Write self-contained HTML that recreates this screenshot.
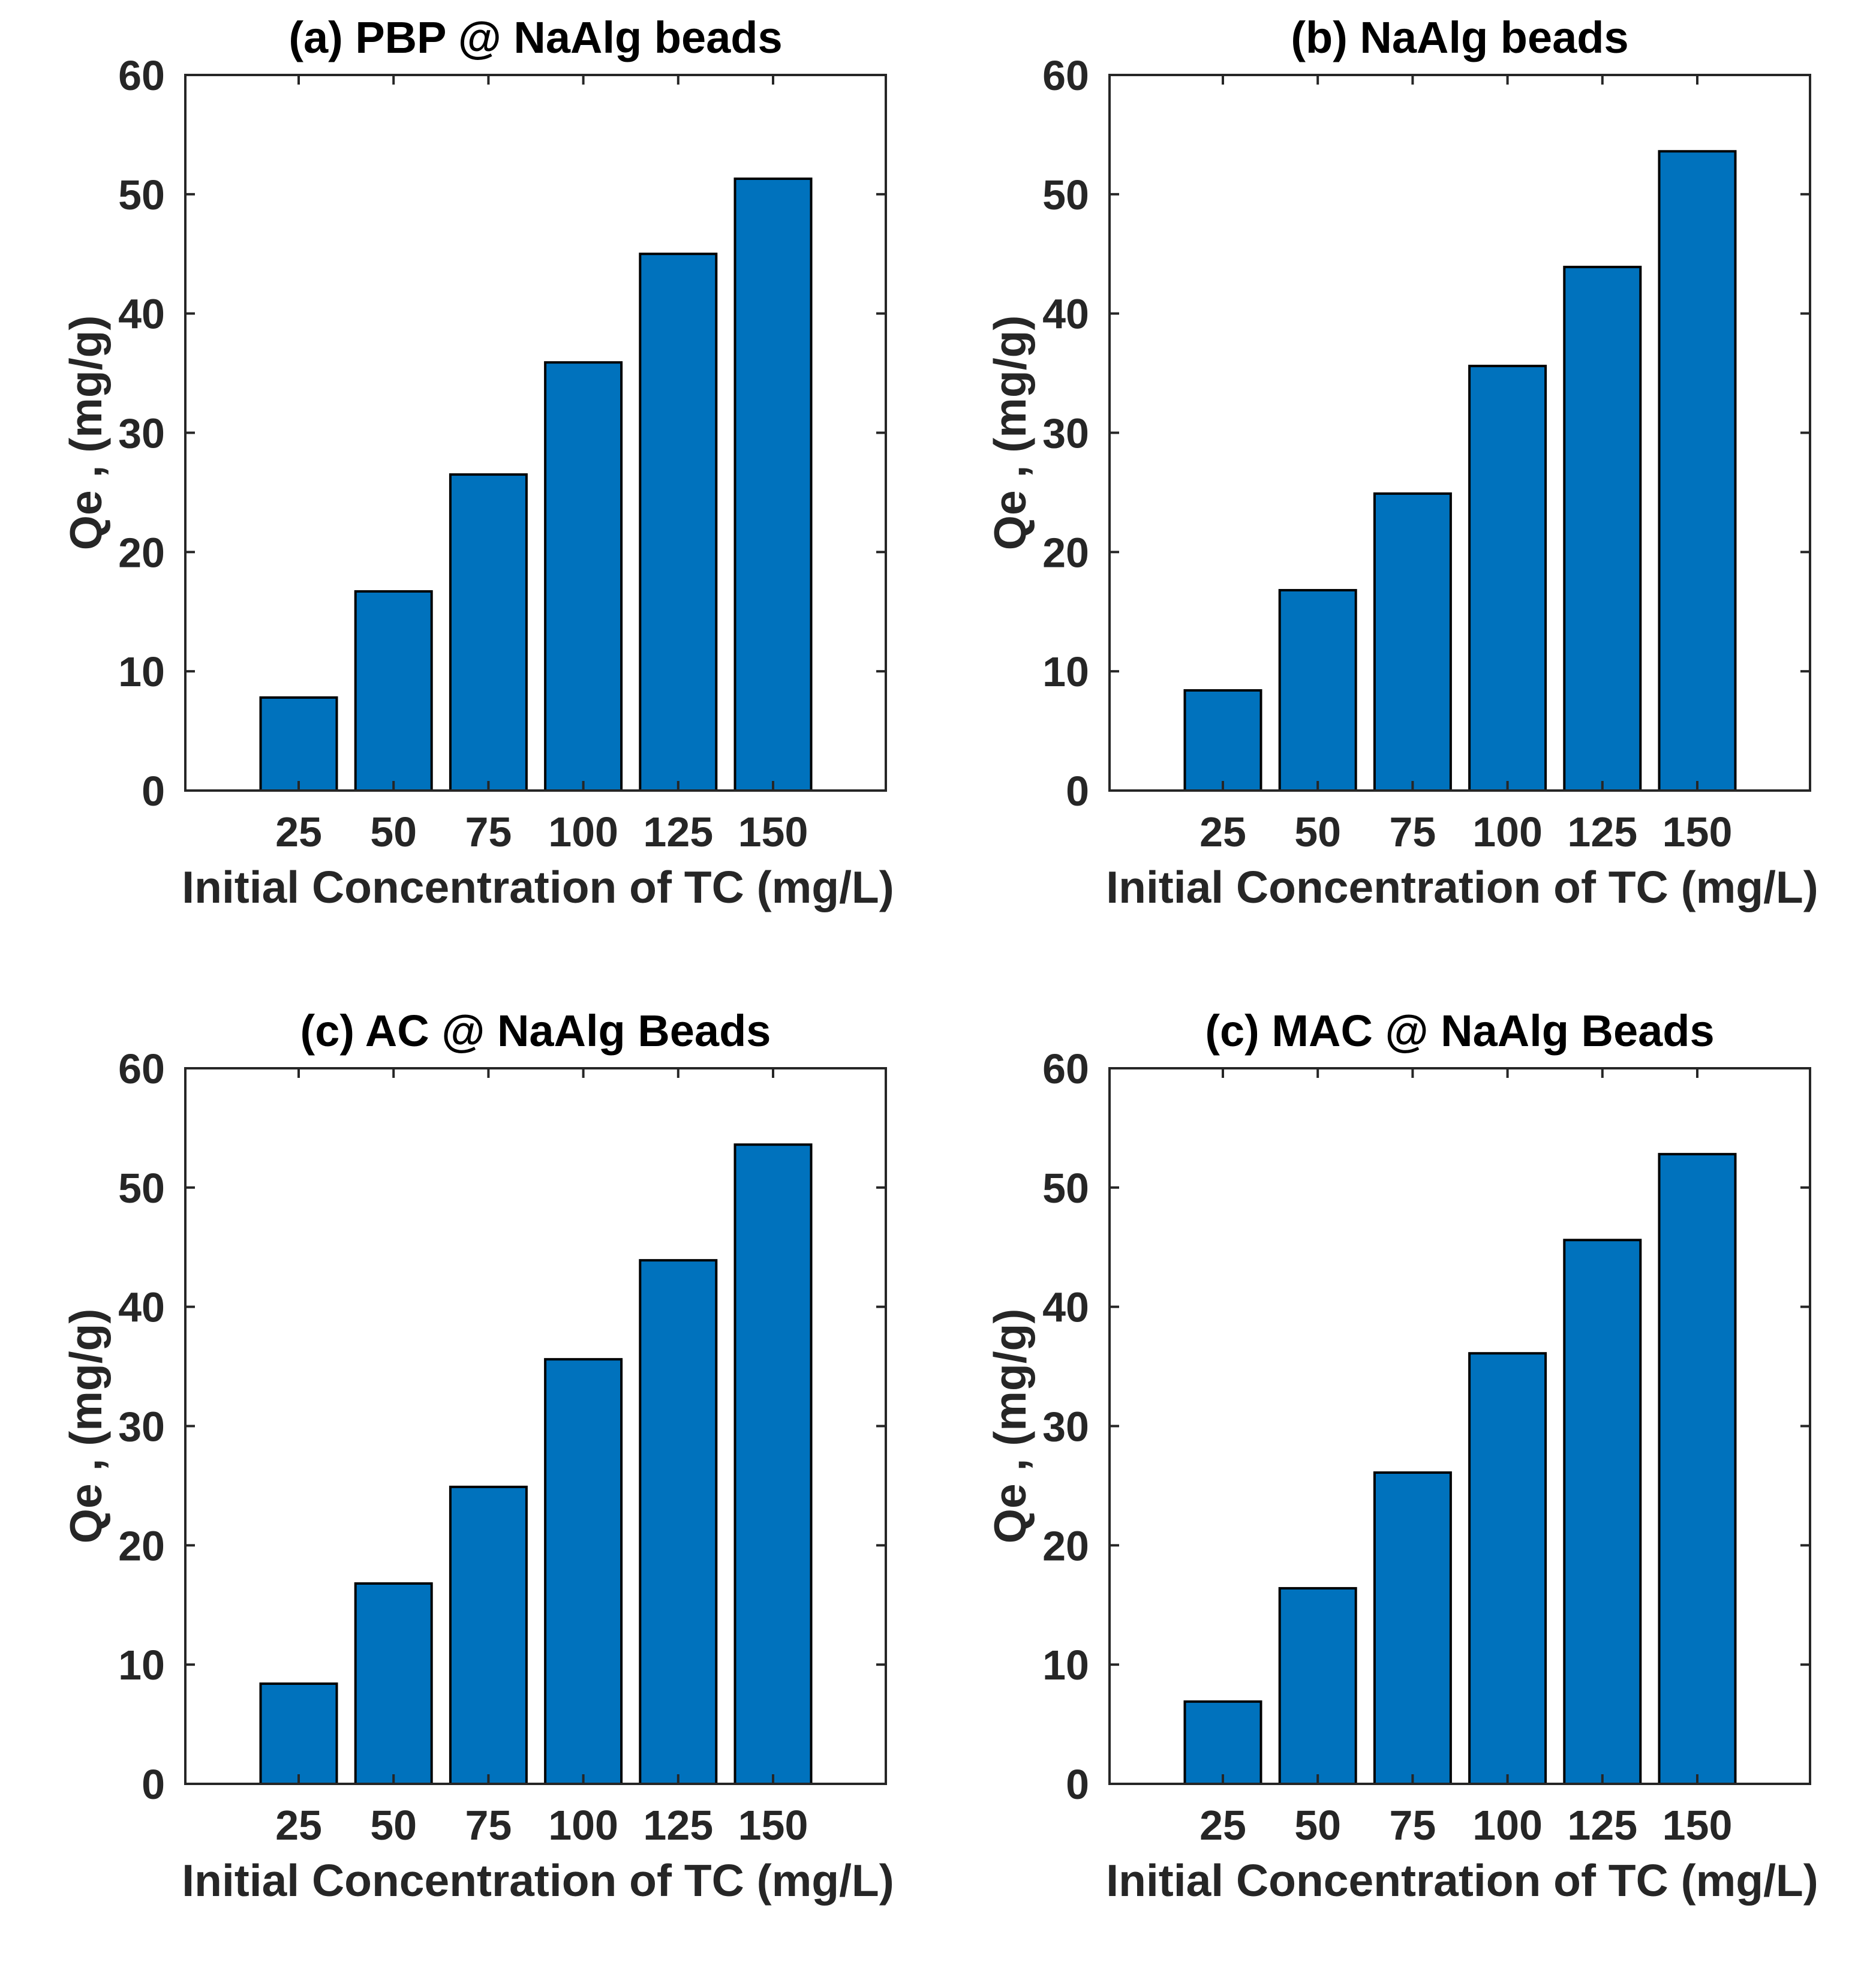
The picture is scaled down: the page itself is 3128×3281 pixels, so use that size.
<!DOCTYPE html>
<html><head><meta charset="utf-8"><style>
html,body{margin:0;padding:0;background:#fff;}
svg{display:block;font-family:"Liberation Sans",Arial,sans-serif;font-weight:bold;}
</style></head><body>
<svg id="fig" width="3128" height="3281" viewBox="0 0 3128 3281" xmlns="http://www.w3.org/2000/svg"></svg>
<script>
const categories = ["25","50","75","100","125","150"];
const yTicks = [0,10,20,30,40,50,60];
const titles = ["(a) PBP @ NaAlg beads","(b) NaAlg beads","(c) AC @ NaAlg Beads","(c) MAC @ NaAlg Beads"];
const seriesA = [7.8,16.7,26.5,35.9,45.0,51.3];
const seriesB = [8.4,16.8,24.9,35.6,43.9,53.6];
const seriesC = [8.4,16.8,24.9,35.6,43.9,53.6];
const seriesD = [6.9,16.4,26.1,36.1,45.6,52.8];
const allSeries = [seriesA,seriesB,seriesC,seriesD];
const ns = "http://www.w3.org/2000/svg";
const svg = document.getElementById('fig');
const panels = [[309,125],[1850,125],[309,1781],[1850,1781]];
const W = 1168, H = 1193, YMAX = 60;
function mk(tag, attrs, parent){const e=document.createElementNS(ns,tag);for(const k in attrs)e.setAttribute(k,attrs[k]);(parent||svg).appendChild(e);return e;}
panels.forEach((p,pi)=>{
  const L=p[0],T=p[1],B=T+H,R=L+W;
  const g=mk('g',{});
  
  
  const yS=v=>B-v/YMAX*H;
  const xS=i=>L+189+i*158.2;
  const bw=127;
  allSeries[pi].forEach((v,i)=>{
    const r=mk('rect',{x:xS(i)-bw/2,y:yS(v),width:bw,height:B-yS(v),fill:'#0072BD',stroke:'#000','stroke-width':4},g);
    
    
  });
  const ax=mk('rect',{x:L,y:T,width:W,height:H,fill:'none',stroke:'#262626','stroke-width':4},g);
  
  
  yTicks.forEach(t=>{
    const y=yS(t);
    mk('line',{x1:L,x2:L+16,y1:y,y2:y,stroke:'#262626','stroke-width':4},g);
    mk('line',{x1:R-16,x2:R,y1:y,y2:y,stroke:'#262626','stroke-width':4},g);
    const tx=mk('text',{x:L-34,y:y+25,'text-anchor':'end','font-size':70,fill:'#262626'},g);
    tx.textContent=t;
    
    
  });
  categories.forEach((c,i)=>{
    const x=xS(i);
    mk('line',{x1:x,x2:x,y1:B,y2:B-16,stroke:'#262626','stroke-width':4},g);
    mk('line',{x1:x,x2:x,y1:T,y2:T+16,stroke:'#262626','stroke-width':4},g);
    const tx=mk('text',{x:x,y:B+93,'text-anchor':'middle','font-size':70,fill:'#262626'},g);
    tx.textContent=c;
    
    
  });
  const xl=mk('text',{x:L+W/2+4,y:B+187,'text-anchor':'middle','font-size':75,fill:'#262626'},g);
  xl.textContent='Initial Concentration of TC (mg/L)';
  
  
  const yx=L-140, yy=T+H/2;
  const yl=mk('text',{x:yx,y:yy,'text-anchor':'middle','font-size':75,fill:'#262626',transform:`rotate(-90 ${yx} ${yy})`},g);
  yl.textContent='Qe , (mg/g)';
  
  
  const tt=mk('text',{x:L+W/2,y:T-37,'text-anchor':'middle','font-size':74,fill:'#000'},g);
  tt.textContent=titles[pi];
  
  
});
</script>
</body></html>
